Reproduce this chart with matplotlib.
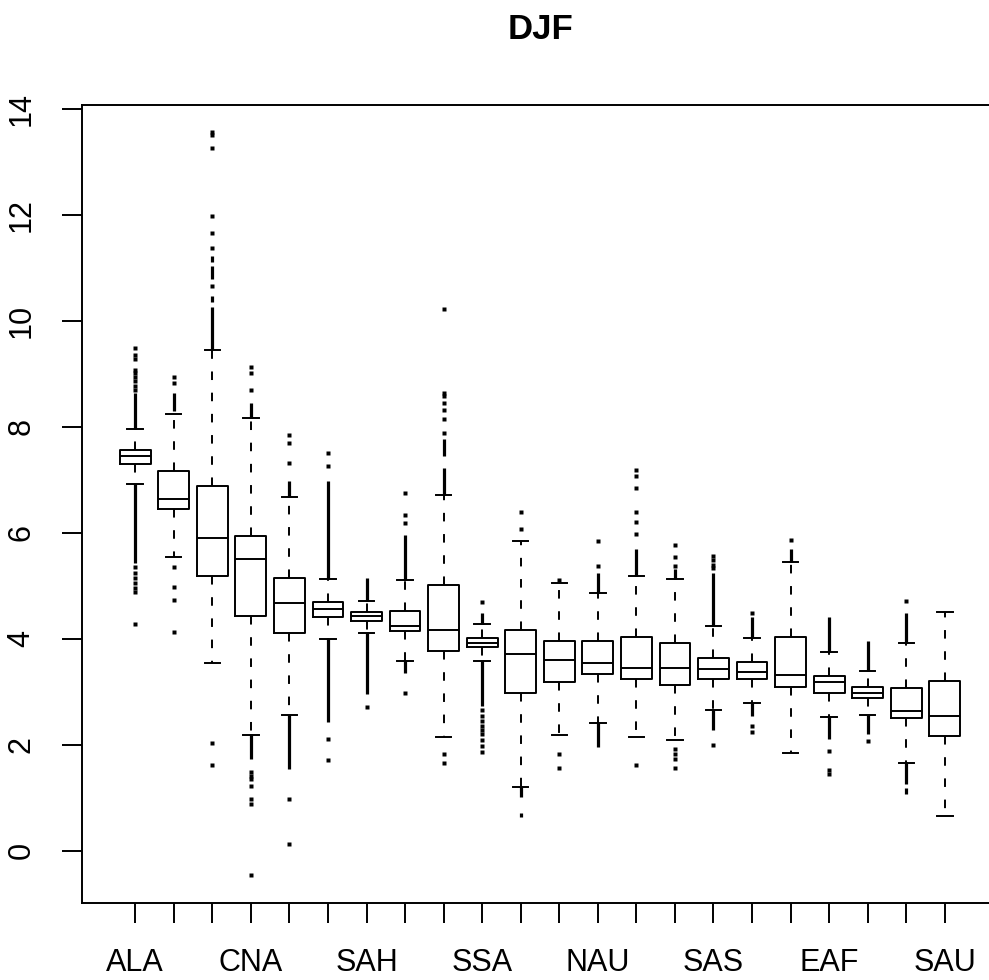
import numpy as np
from matplotlib import pyplot as plt

#regiones (R solo muestra una de cada tres etiquetas)
regiones = ['ALA', 'NAS', 'CGI', 'CNA', 'NEU', 'CAS', 'SAH', 'TIB', 'WNA', 'SSA', 'MED',
            'EAS', 'NAU', 'ENA', 'CAM', 'SAS', 'WAF', 'SAF', 'EAF', 'AMZ', 'SEA', 'SAU']

#estadisticos de cada caja
bigote_inf = [6.92, 5.54, 3.55, 2.19, 2.57, 3.99, 4.11, 3.59, 2.14, 3.58, 1.20,
              2.19, 2.41, 2.15, 2.09, 2.66, 2.79, 1.85, 2.52, 2.57, 1.66, 0.65]
q1 = [7.30, 6.44, 5.19, 4.43, 4.11, 4.41, 4.34, 4.15, 3.77, 3.84, 2.98,
      3.19, 3.33, 3.25, 3.13, 3.24, 3.24, 3.09, 2.98, 2.88, 2.50, 2.16]
mediana = [7.44, 6.63, 5.90, 5.51, 4.67, 4.56, 4.43, 4.25, 4.17, 3.92, 3.71,
           3.60, 3.55, 3.45, 3.45, 3.43, 3.37, 3.32, 3.18, 2.98, 2.63, 2.55]
q3 = [7.56, 7.17, 6.89, 5.94, 5.15, 4.70, 4.50, 4.53, 5.01, 4.02, 4.17,
      3.95, 3.95, 4.03, 3.93, 3.64, 3.56, 4.03, 3.29, 3.09, 3.08, 3.20]
bigote_sup = [7.95, 8.25, 9.45, 8.16, 6.68, 5.13, 4.72, 5.10, 6.72, 4.27, 5.84,
              5.06, 4.87, 5.19, 5.12, 4.24, 4.01, 5.44, 3.76, 3.39, 3.92, 4.51]

#outliers sueltos
outliers = [
    [9.49, 9.36, 9.27, 9.08, 9.02, 8.94, 8.86, 8.77, 8.70, 5.36, 5.25, 5.15, 5.05, 4.95, 4.88, 4.27],
    [8.94, 8.83, 5.35, 4.97, 4.74, 4.13],
    [13.56, 13.51, 13.25, 11.98, 11.66, 11.38, 10.66, 2.04, 1.62],
    [9.12, 9.02, 8.70, 1.48, 1.42, 1.36, 1.23, 0.98, 0.88, -0.45],
    [7.85, 7.70, 7.32, 0.97, 0.13],
    [7.50, 7.26, 2.11, 1.71],
    [2.71],
    [6.75, 6.34, 6.19, 2.98],
    [10.22, 8.64, 8.58, 8.45, 8.32, 8.15, 7.89, 1.82, 1.66],
    [4.69, 2.65, 2.55, 2.45, 2.35, 2.28, 2.20, 2.10, 1.98, 1.86],
    [6.40, 6.08],
    [5.11, 1.83, 1.56],
    [5.84, 5.38],
    [7.19, 7.07, 6.84, 6.39, 6.20, 5.97, 1.62],
    [5.76, 5.54, 5.37, 1.92, 1.83, 1.73, 1.57],
    [5.56, 5.48, 5.40, 5.33, 2.00],
    [4.49, 2.35, 2.24],
    [5.87],
    [1.89, 1.52, 1.44],
    [2.08],
    [4.71],
    [],
]

#tramos donde los outliers estan tan juntos que se ven como una linea
tramos = [
    [(7.95, 8.64), (5.43, 6.92)],
    [(8.30, 8.64)],
    [(11.10, 11.22), (10.78, 11.03), (10.35, 10.46), (9.45, 10.25)],
    [(8.16, 8.45), (1.74, 2.19)],
    [(6.68, 6.97), (1.54, 2.57)],
    [(5.13, 6.97), (2.43, 3.99)],
    [(4.72, 5.14), (2.96, 4.11)],
    [(5.11, 5.96), (3.35, 3.59)],
    [(7.44, 7.76), (6.72, 7.22)],
    [(4.27, 4.49), (2.74, 3.58)],
    [(1.01, 1.20), (0.63, 0.72)],
    [],
    [(4.87, 5.24), (1.95, 2.41)],
    [(5.19, 5.70)],
    [(5.12, 5.31)],
    [(4.24, 5.25), (2.27, 2.66)],
    [(4.01, 4.41), (2.55, 2.79)],
    [(5.44, 5.70)],
    [(3.76, 4.41), (2.11, 2.52)],
    [(3.39, 3.95), (2.21, 2.57)],
    [(3.92, 4.48), (1.26, 1.66), (1.07, 1.18)],
    [],
]

plt.rcParams['font.family'] = ['Liberation Sans', 'DejaVu Sans']

fig = plt.figure(figsize=(9.89, 9.8), dpi=100)
ax = fig.add_axes([82/989, 1-903.3/980, (998-82)/989, (903.3-105)/980])

stats = []
for i in range(len(regiones)):
    stats.append({'whislo': bigote_inf[i], 'q1': q1[i], 'med': mediana[i], 'q3': q3[i],
                  'whishi': bigote_sup[i], 'fliers': outliers[i], 'label': regiones[i]})

lw = 1.4
pos = np.arange(1, len(regiones)+1)
ax.bxp(stats, positions=pos, widths=0.8, capwidths=0.4, showfliers=True,
       boxprops=dict(color='black', lw=lw),
       medianprops=dict(color='black', lw=lw),
       whiskerprops=dict(color='black', lw=lw, linestyle=(0, (4.4, 6.5))),
       capprops=dict(color='black', lw=lw),
       flierprops=dict(marker='s', markersize=2.3, markerfacecolor='black',
                       markeredgecolor='none', linestyle='none'))

#los tramos densos
for i in range(len(regiones)):
    for lo, hi in tramos[i]:
        ax.vlines(pos[i], lo, hi, color='black', lw=2.3)

ax.set_xlim(-0.38, 23.38)
ax.set_ylim(-0.99, 14.07)

etiquetas = [r if i % 3 == 0 else '' for i, r in enumerate(regiones)]
ax.set_xticks(pos)
ax.set_xticklabels(etiquetas)
ax.set_yticks(np.arange(0, 15, 2))
ax.set_yticklabels([str(v) for v in range(0, 15, 2)], rotation=90, va='center')
ax.tick_params(axis='both', direction='out', length=14.4, width=lw, labelsize=22)
ax.tick_params(axis='x', pad=18)
ax.tick_params(axis='y', pad=18.5)
for s in ax.spines.values():
    s.set_linewidth(lw)

fig.text(540/989, 1-39/980, 'DJF', fontsize=25, fontweight='bold', ha='center', va='baseline')

plt.savefig('out.png', dpi=100)
